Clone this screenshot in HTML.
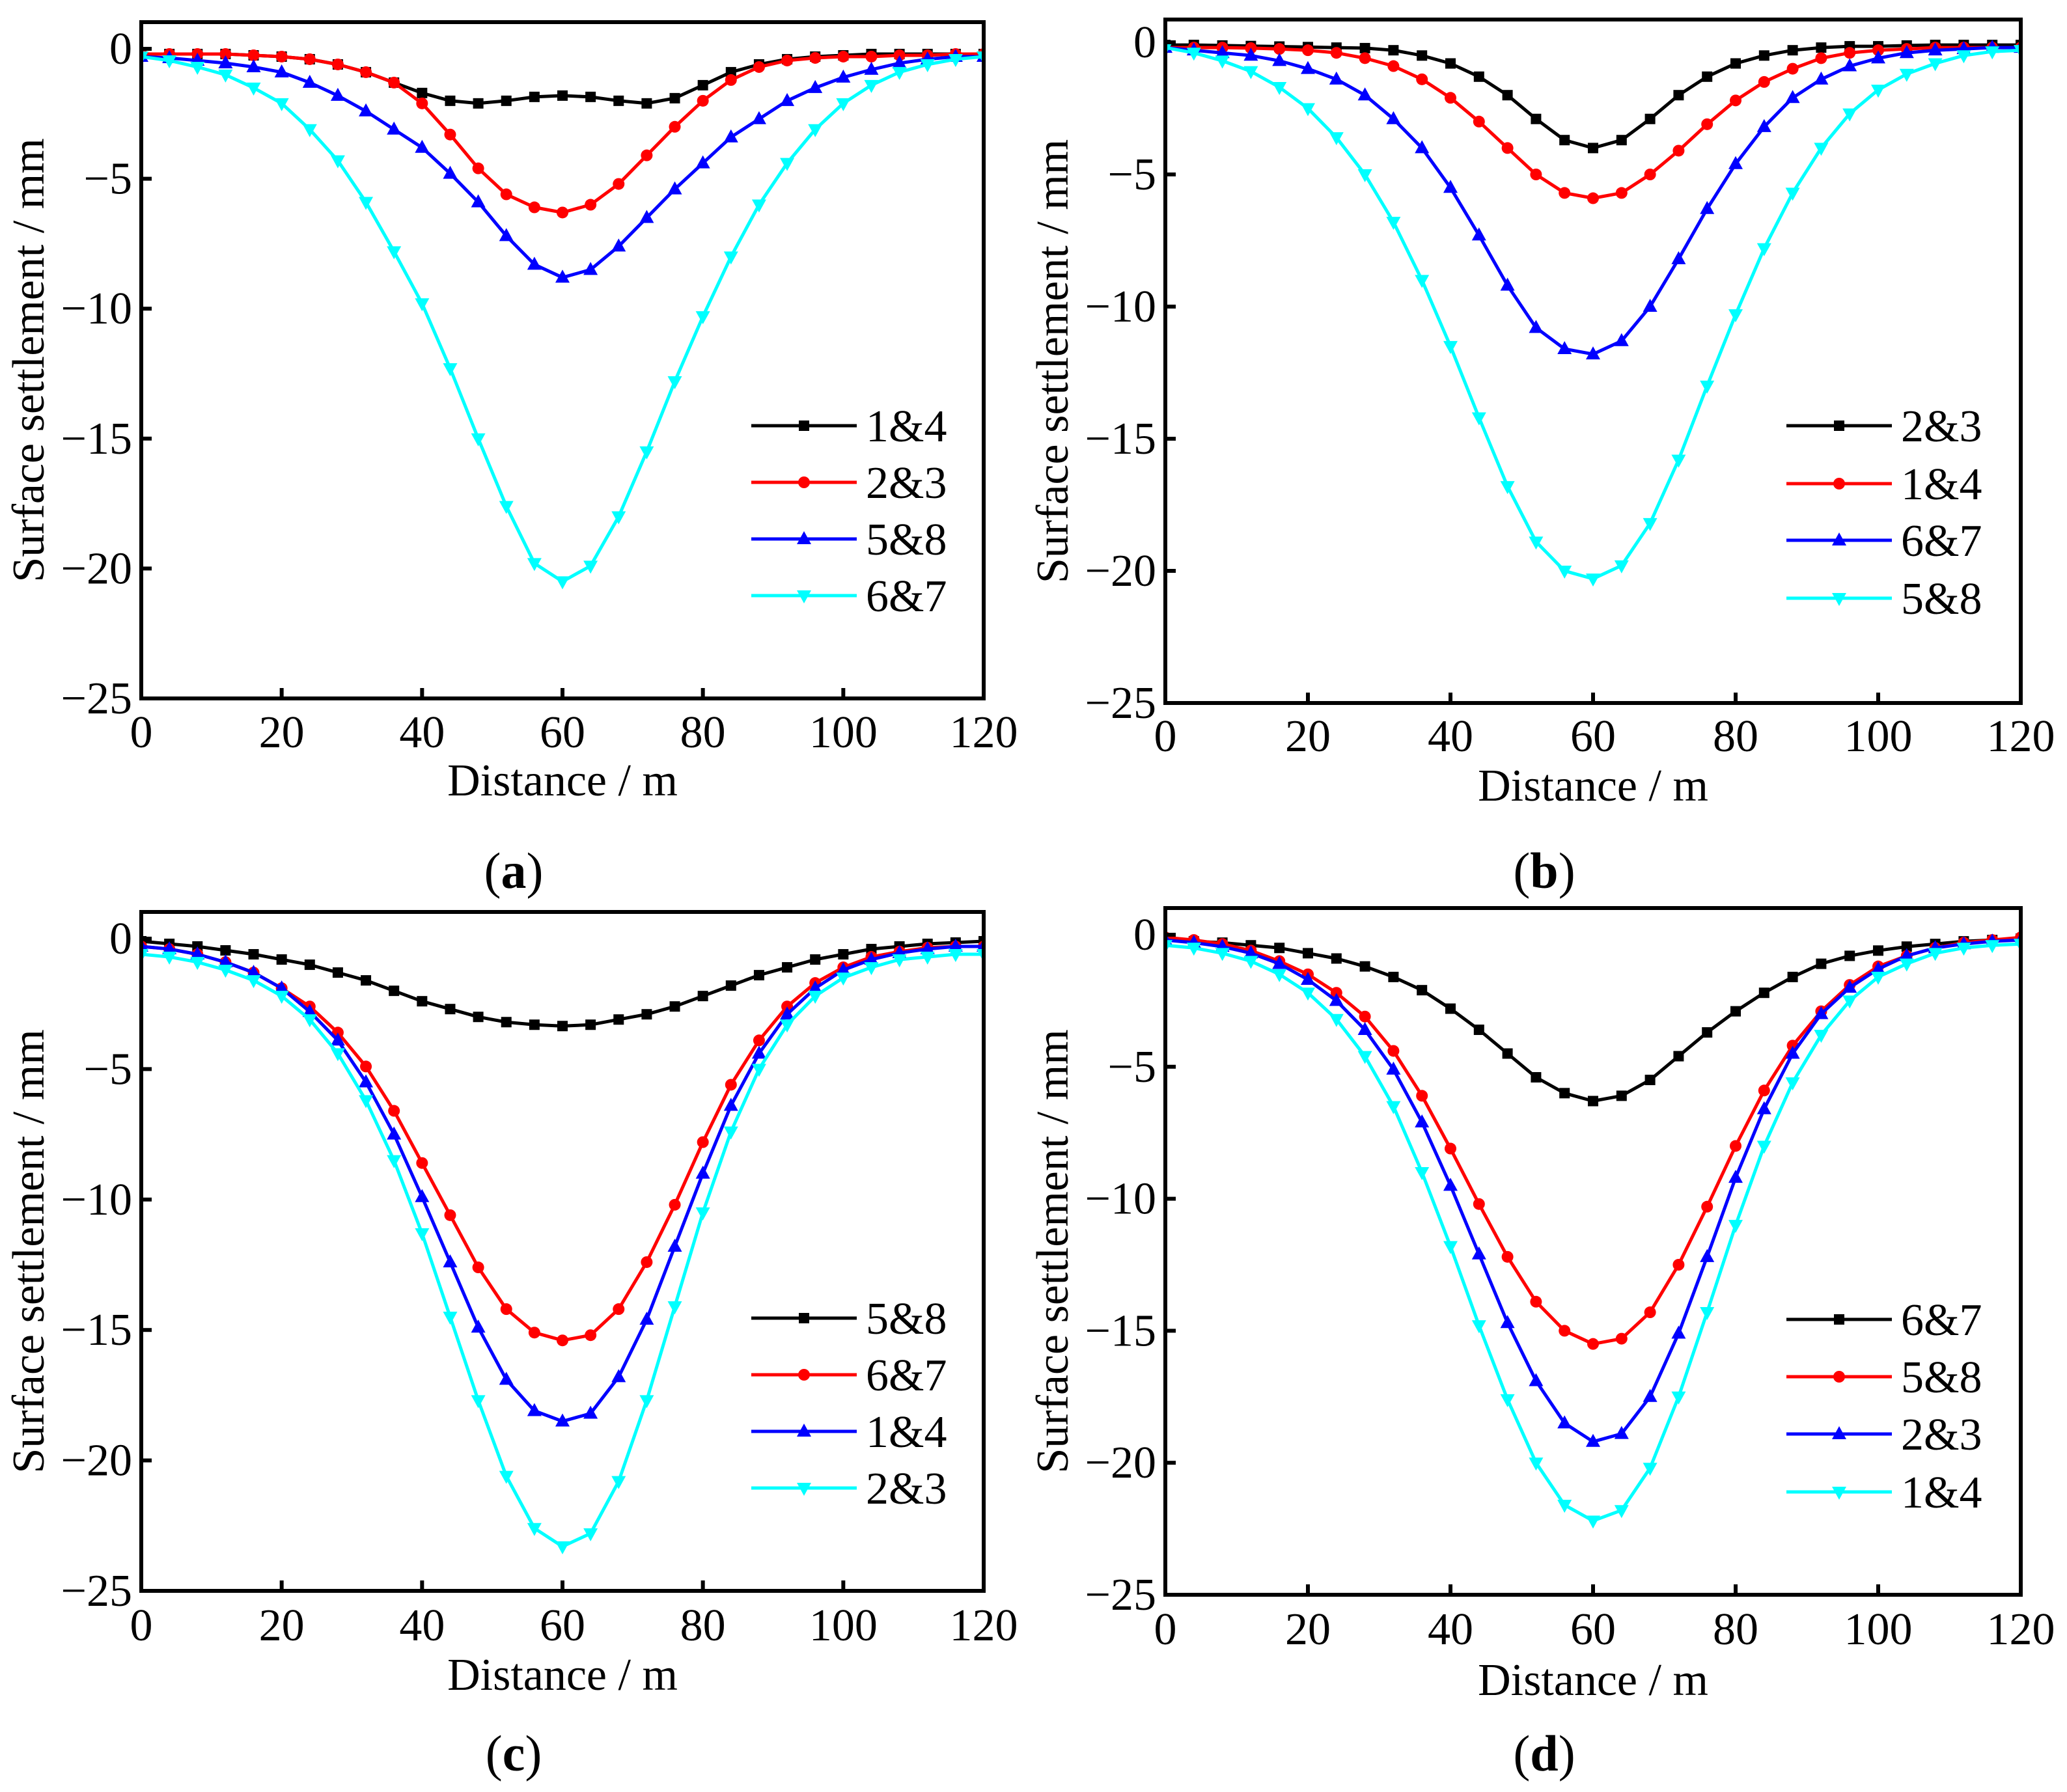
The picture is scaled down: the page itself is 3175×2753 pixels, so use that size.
<!DOCTYPE html>
<html><head><meta charset="utf-8">
<style>
html,body{margin:0;padding:0;background:#fff;}
svg{display:block;font-family:"Liberation Serif","DejaVu Serif",serif;}
</style></head>
<body>
<svg id="fig" xmlns="http://www.w3.org/2000/svg" width="3175" height="2753" viewBox="0 0 3175 2753" font-family="Liberation Serif, serif"></svg>
<script>
const distances = [0,4,8,12,16,20,24,28,32,36,40,44,48,52,56,60,64,68,72,76,80,84,88,92,96,100,104,108,112,116,120];
const xTicks = [0,20,40,60,80,100,120];
const yTicks = [0,-5,-10,-15,-20,-25];
const yTickLabels = ["0","\u22125","\u221210","\u221215","\u221220","\u221225"];

const aNames = ["1&4","2&3","5&8","6&7"];
const aS1 = [-0.2,-0.2,-0.2,-0.2,-0.25,-0.3,-0.4,-0.6,-0.9,-1.3,-1.7,-2.0,-2.1,-2.0,-1.85,-1.8,-1.85,-2.0,-2.1,-1.9,-1.4,-0.9,-0.6,-0.4,-0.3,-0.25,-0.2,-0.2,-0.2,-0.2,-0.2];
const aS2 = [-0.2,-0.2,-0.2,-0.2,-0.25,-0.3,-0.4,-0.6,-0.9,-1.3,-2.1,-3.3,-4.6,-5.6,-6.1,-6.3,-6.0,-5.2,-4.1,-3.0,-2.0,-1.2,-0.7,-0.45,-0.35,-0.3,-0.3,-0.25,-0.25,-0.2,-0.2];
const aS3 = [-0.3,-0.35,-0.45,-0.55,-0.7,-0.9,-1.3,-1.8,-2.4,-3.1,-3.8,-4.8,-5.9,-7.2,-8.3,-8.8,-8.5,-7.6,-6.5,-5.4,-4.4,-3.4,-2.7,-2.0,-1.5,-1.1,-0.8,-0.55,-0.4,-0.3,-0.3];
const aS4 = [-0.3,-0.45,-0.7,-1.0,-1.5,-2.1,-3.1,-4.3,-5.9,-7.8,-9.8,-12.3,-15.0,-17.6,-19.8,-20.5,-19.9,-18.0,-15.5,-12.8,-10.3,-8.0,-6.0,-4.4,-3.1,-2.1,-1.4,-0.9,-0.6,-0.4,-0.3];

const bNames = ["2&3","1&4","6&7","5&8"];
const bS1 = [-0.1,-0.1,-0.12,-0.14,-0.16,-0.18,-0.2,-0.22,-0.3,-0.5,-0.8,-1.3,-2.0,-2.9,-3.7,-4.0,-3.7,-2.9,-2.0,-1.3,-0.8,-0.5,-0.3,-0.2,-0.15,-0.15,-0.12,-0.1,-0.1,-0.1,-0.1];
const bS2 = [-0.2,-0.2,-0.2,-0.22,-0.25,-0.3,-0.4,-0.6,-0.9,-1.4,-2.1,-3.0,-4.0,-5.0,-5.7,-5.9,-5.7,-5.0,-4.1,-3.1,-2.2,-1.5,-1.0,-0.6,-0.4,-0.3,-0.25,-0.2,-0.2,-0.2,-0.2];
const bS3 = [-0.2,-0.3,-0.4,-0.5,-0.7,-1.0,-1.4,-2.0,-2.9,-4.0,-5.5,-7.3,-9.2,-10.8,-11.6,-11.8,-11.3,-10.0,-8.2,-6.3,-4.6,-3.2,-2.1,-1.4,-0.9,-0.6,-0.4,-0.3,-0.25,-0.2,-0.2];
const bS4 = [-0.2,-0.4,-0.7,-1.1,-1.7,-2.5,-3.6,-5.0,-6.8,-9.0,-11.5,-14.2,-16.8,-18.9,-20.0,-20.3,-19.8,-18.2,-15.8,-13.0,-10.3,-7.8,-5.7,-4.0,-2.7,-1.8,-1.2,-0.8,-0.5,-0.35,-0.3];

const cNames = ["5&8","6&7","1&4","2&3"];
const cS1 = [-0.1,-0.2,-0.3,-0.45,-0.6,-0.8,-1.0,-1.3,-1.6,-2.0,-2.4,-2.7,-3.0,-3.2,-3.3,-3.35,-3.3,-3.1,-2.9,-2.6,-2.2,-1.8,-1.4,-1.1,-0.8,-0.6,-0.4,-0.3,-0.2,-0.15,-0.1];
const cS2 = [-0.3,-0.4,-0.6,-0.9,-1.3,-1.9,-2.6,-3.6,-4.9,-6.6,-8.6,-10.6,-12.6,-14.2,-15.1,-15.4,-15.2,-14.2,-12.4,-10.2,-7.8,-5.6,-3.9,-2.6,-1.7,-1.1,-0.7,-0.5,-0.35,-0.3,-0.3];
const cS3 = [-0.3,-0.4,-0.6,-0.9,-1.3,-1.9,-2.8,-3.9,-5.5,-7.5,-9.9,-12.4,-14.9,-16.9,-18.1,-18.5,-18.2,-16.8,-14.6,-11.8,-9.0,-6.4,-4.4,-2.9,-1.9,-1.2,-0.8,-0.55,-0.4,-0.3,-0.3];
const cS4 = [-0.6,-0.7,-0.9,-1.2,-1.6,-2.2,-3.1,-4.4,-6.2,-8.5,-11.3,-14.5,-17.7,-20.6,-22.6,-23.3,-22.8,-20.8,-17.7,-14.1,-10.5,-7.4,-5.0,-3.3,-2.2,-1.5,-1.1,-0.8,-0.7,-0.6,-0.6];

const dNames = ["6&7","5&8","2&3","1&4"];
const dS1 = [-0.2,-0.25,-0.3,-0.4,-0.5,-0.7,-0.9,-1.2,-1.6,-2.1,-2.8,-3.6,-4.5,-5.4,-6.0,-6.3,-6.1,-5.5,-4.6,-3.7,-2.9,-2.2,-1.6,-1.1,-0.8,-0.6,-0.45,-0.35,-0.25,-0.2,-0.15];
const dS2 = [-0.1,-0.2,-0.35,-0.6,-1.0,-1.5,-2.2,-3.1,-4.4,-6.1,-8.1,-10.2,-12.2,-13.9,-15.0,-15.5,-15.3,-14.3,-12.5,-10.3,-8.0,-5.9,-4.2,-2.9,-1.9,-1.2,-0.8,-0.5,-0.3,-0.2,-0.1];
const dS3 = [-0.2,-0.3,-0.45,-0.7,-1.1,-1.7,-2.5,-3.6,-5.1,-7.1,-9.5,-12.1,-14.7,-16.9,-18.5,-19.2,-18.9,-17.5,-15.1,-12.2,-9.2,-6.6,-4.5,-3.0,-2.0,-1.3,-0.8,-0.5,-0.35,-0.25,-0.2];
const dS4 = [-0.4,-0.5,-0.7,-1.0,-1.5,-2.2,-3.2,-4.6,-6.5,-9.0,-11.8,-14.8,-17.6,-20.0,-21.6,-22.2,-21.8,-20.2,-17.5,-14.3,-11.0,-8.0,-5.6,-3.8,-2.5,-1.6,-1.1,-0.7,-0.5,-0.4,-0.35];

const NS = "http://www.w3.org/2000/svg";
const svg = document.getElementById('fig');
function mk(tag, attrs, parent){
  const e = document.createElementNS(NS, tag);
  for (const k in attrs) e.setAttribute(k, attrs[k]);
  (parent||svg).appendChild(e);
  return e;
}
const colors = ["#000000","#ff0000","#0000ff","#00ffff"];
const markers = ["square","circle","up","down"];

function marker(g, type, cx, cy, color){
  let e;
  if (type==="square") e = mk('rect',{x:cx-8,y:cy-8,width:16,height:16,fill:color},g);
  else if (type==="circle") e = mk('circle',{cx:cx,cy:cy,r:9,fill:color},g);
  else if (type==="up") e = mk('polygon',{points:`${cx},${cy-12} ${cx-11},${cy+8} ${cx+11},${cy+8}`,fill:color},g);
  else e = mk('polygon',{points:`${cx},${cy+12} ${cx-11},${cy-8} ${cx+11},${cy-8}`,fill:color},g);
  
  
  return e;
}

function panel(id, box, names, series, legendRows, legX, xLabY, xTitleY, panelLabel, plY){
  const g = mk('g',{});
  
  
  const xs = v => box.x0 + (v/120)*(box.x1-box.x0);
  const ys = v => box.y0 + (-v/25)*(box.yb-box.y0);
  const clipId = 'clip'+id;
  const cp = mk('clipPath',{id:clipId},g);
  mk('rect',{x:box.x0,y:box.yt,width:box.x1-box.x0,height:box.yb-box.yt},cp);
  series.forEach((s,i)=>{
    const sg = mk('g',{'clip-path':`url(#${clipId})`},g);
    
    
    const pts = s.map((v,j)=>xs(distances[j]).toFixed(1)+','+ys(v).toFixed(1)).join(' ');
    const pl = mk('polyline',{points:pts,fill:'none',stroke:colors[i],'stroke-width':5,'stroke-linejoin':'round'},sg);
    
    
    s.forEach((v,j)=>marker(sg, markers[i], xs(distances[j]), ys(v), colors[i]));
  });
  const fr = mk('rect',{x:box.x0,y:box.yt,width:box.x1-box.x0,height:box.yb-box.yt,fill:'none',stroke:'#000','stroke-width':6},g);
  
  
  xTicks.forEach(t=>{
    const x = xs(t);
    mk('line',{x1:x,x2:x,y1:box.yb,y2:box.yb-16,stroke:'#000','stroke-width':6},g);
    const tx = mk('text',{x:x,y:xLabY,'font-size':70,'text-anchor':'middle'},g);
    tx.textContent = String(t);
    
    
  });
  yTicks.forEach((t,i)=>{
    const y = ys(t);
    mk('line',{x1:box.x0,x2:box.x0+16,y1:y,y2:y,stroke:'#000','stroke-width':6},g);
    const tx = mk('text',{x:box.x0-14,y:y+23,'font-size':70,'text-anchor':'end'},g);
    tx.textContent = yTickLabels[i];
    
    
  });
  const xt = mk('text',{x:(box.x0+box.x1)/2,y:xTitleY,'font-size':70,'text-anchor':'middle'},g);
  xt.textContent = 'Distance / m';
  
  
  const ym = (box.yt+box.yb)/2;
  const yx = box.x0-150;
  const yt = mk('text',{x:yx,y:ym,'font-size':70,'text-anchor':'middle',transform:`rotate(-90 ${yx} ${ym})`},g);
  yt.textContent = 'Surface settlement / mm';
  
  
  names.forEach((n,i)=>{
    const lg = mk('g',{},g);
    
    
    const y = legendRows[i];
    mk('line',{x1:legX,x2:legX+162,y1:y,y2:y,stroke:colors[i],'stroke-width':5},lg);
    marker(lg, markers[i], legX+81, y, colors[i]);
    const t = mk('text',{x:legX+176,y:y+24,'font-size':70},lg);
    t.textContent = n;
  });
  const pl = mk('text',{x:(box.x0+box.x1)/2 - 75,y:plY,'font-size':78,'text-anchor':'middle'},g);
  
  
  pl.innerHTML = '(<tspan font-weight="bold">'+panelLabel+'</tspan>)';
}

panel('a',{x0:217,x1:1511,yt:34,yb:1073,y0:75},aNames,[aS1,aS2,aS3,aS4],[654,741,828,915],1154,1148,1222,'a',1364);
panel('b',{x0:1790,x1:3104,yt:30,yb:1080,y0:65},bNames,[bS1,bS2,bS3,bS4],[654,743,830,919],2744,1154,1230,'b',1364);
panel('c',{x0:217,x1:1511,yt:1401,yb:2444,y0:1442},cNames,[cS1,cS2,cS3,cS4],[2025,2112,2199,2286],1154,2520,2596,'c',2720);
panel('d',{x0:1790,x1:3104,yt:1395,yb:2450,y0:1436},dNames,[dS1,dS2,dS3,dS4],[2027,2115,2203,2292],2744,2526,2604,'d',2720);
</script>
</body></html>
